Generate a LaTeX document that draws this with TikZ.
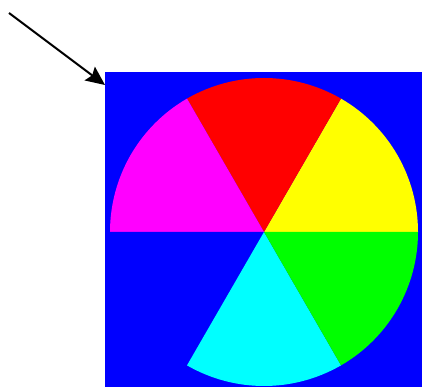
\documentclass[tikz,border=0pt]{standalone}
\usetikzlibrary{arrows.meta}
\definecolor{wblue}{RGB}{0,0,255}
\definecolor{wred}{RGB}{255,0,0}
\definecolor{wyellow}{RGB}{255,255,0}
\definecolor{wgreen}{RGB}{0,255,0}
\definecolor{wcyan}{RGB}{0,255,255}
\definecolor{wmagenta}{RGB}{255,0,255}

\begin{document}
\begin{tikzpicture}[x=1pt,y=1pt,line width=2pt,>=Stealth,
  pointer/.style={->,line width=2pt,>={Stealth[length=19pt,width=17pt,inset=3pt]}},
  wedge/.style={line width=0pt}]
\useasboundingbox (0,0) rectangle (422,387);
% ================= blue square =================
\fill[wblue] (105,0) rectangle (422,315);
\coordinate (corner) at (105,302);
\coordinate (tail) at (9,374);
% ================= colour wheel =================
\coordinate (c) at (264,155);
\foreach \a/\col in {0/wyellow,60/wred,120/wmagenta,180/wblue,240/wcyan,300/wgreen} {
  \fill[wedge,\col] (c) -- ++(\a:154) arc[start angle=\a,end angle=\a+60,radius=154] -- cycle;
}
% ================= arrow =================
\draw[pointer] (tail) -- (corner);
\end{tikzpicture}
\end{document}
